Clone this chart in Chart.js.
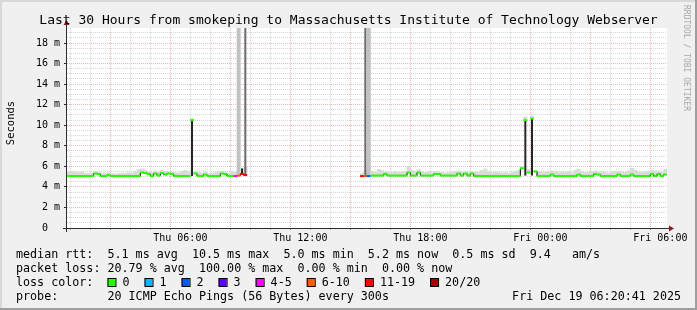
<!DOCTYPE html>
<html><head><meta charset="utf-8">
<script src="https://cdn.jsdelivr.net/npm/chart.js@4/dist/chart.umd.min.js"></script>
<style>html,body{margin:0;padding:0;background:#f0f0f0;}canvas{display:block;}</style>
</head><body>
<canvas id="c" width="697" height="310"></canvas>
<script>
// ---- data (10-minute samples starting Thu 00:20, times in minutes) ----
const STEP_MIN = 10;
const median = [
 5.05,5.05,5.05,5.05,5.05,5.05,5.05,5.05,5.3,5.25,
 5.05,5.05,5.15,5.05,5.05,5.05,5.05,5.05,5.05,5.05,
 5.05,5.05,5.4,5.35,5.25,5.05,5.3,5.1,5.35,5.2,
 5.3,5.25,5.05,5.05,5.05,5.05,5.05,10.5,5.3,5.05,
 5.05,5.2,5.05,5.05,5.05,5.05,5.3,5.25,5.05,5.05,
 5.05,5.1,5.25,5.15,null,null,null,null,null,null,
 null,null,null,null,null,null,null,null,null,null,
 null,null,null,null,null,null,null,null,null,null,
 null,null,null,null,null,null,null,null,5.05,5.05,
 5.05,5.1,5.1,5.1,5.1,5.25,5.1,5.1,5.1,5.1,
 5.1,5.1,5.4,5.1,5.1,5.4,5.1,5.1,5.1,5.1,
 5.25,5.25,5.1,5.1,5.1,5.1,5.1,5.3,5.1,5.3,
 5.1,5.3,5.05,5.05,5.05,5.05,5.05,5.05,5.05,5.05,
 5.05,5.05,5.05,5.05,5.05,5.05,5.8,10.5,5.4,10.65,
 5.5,5.05,5.05,5.05,5.05,5.2,5.05,5.05,5.05,5.05,
 5.05,5.05,5.05,5.2,5.05,5.05,5.05,5.05,5.25,5.2,
 5.05,5.05,5.05,5.05,5.05,5.2,5.05,5.05,5.05,5.2,
 5.05,5.05,5.05,5.05,5.05,5.25,5.05,5.25,5.05,5.2
];
const smokeHi = [
 5.45,5.5,5.45,5.4,5.45,5.35,5.3,5.35,5.5,5.45,
 5.3,5.35,5.4,5.3,5.25,5.3,5.35,5.3,5.4,5.35,
 5.5,5.7,5.75,5.6,5.5,5.4,5.55,5.45,5.6,5.5,
 5.5,5.45,5.4,5.35,5.5,5.6,5.5,10.6,5.55,5.4,
 5.35,5.45,5.3,5.35,5.4,5.5,5.5,5.45,5.35,5.5,
 5.45,20,5.8,5.9,null,null,null,null,null,null,
 null,null,null,null,null,null,null,null,null,null,
 null,null,null,null,null,null,null,null,null,null,
 null,null,null,null,null,null,null,null,5.3,5.6,
 20,5.5,5.4,5.7,5.6,5.5,5.45,5.4,5.5,5.4,
 5.45,5.5,6.0,5.6,5.5,5.7,5.45,5.4,5.5,5.45,
 5.5,5.45,5.4,5.35,5.4,5.45,5.5,5.55,5.45,5.5,
 5.4,5.5,5.45,5.4,5.6,5.75,5.5,5.4,5.45,5.4,
 5.35,5.4,5.35,5.45,5.5,5.6,6.0,10.8,5.7,10.9,
 5.6,5.5,5.4,5.45,5.5,5.55,5.5,5.4,5.45,5.4,
 5.5,5.35,5.6,5.7,5.45,5.4,5.45,5.5,5.55,5.5,
 5.45,5.4,5.35,5.45,5.5,5.5,5.45,5.4,5.55,5.8,
 5.6,5.45,5.4,5.45,5.5,5.6,5.5,5.55,5.45,5.7
];
const lossIdx = [50,51,52,53,88,89,90];
const lossVal = [4,8,15,15,15,8,2];
const darkIdx = [37,52,53,89,137,139];
const darkLo  = [5.05,5.25,5.15,5.05,5.1,5.1];
const darkHi  = [10.5,5.8,20,20,10.5,10.65];

const yLabelValues = [0,2,4,6,8,10,12,14,16,18];
const yLabelTexts  = ['0  ','2 m','4 m','6 m','8 m','10 m','12 m','14 m','16 m','18 m'];
const xLabelMinutes = [340,700,1060,1420,1780];
const xLabelTexts   = ['Thu 06:00','Thu 12:00','Thu 18:00','Fri 00:00','Fri 06:00'];

const lossBucketNames = ['0','1','2','3','4-5','6-10','11-19','20/20'];
const lossBucketColors = ['#26ff00','#00b8ff','#0059ff','#5e00ff','#ff00ff','#ff5e00','#ff0000','#a10000'];

const titleText = 'Last 30 Hours from smokeping to Massachusetts Institute of Technology Webserver';
const statLines = [
 'median rtt:  5.1 ms avg  10.5 ms max  5.0 ms min  5.2 ms now  0.5 ms sd  9.4   am/s',
 'packet loss: 20.79 % avg  100.00 % max  0.00 % min  0.00 % now'
];
const lossLabel = 'loss color:';
const probeLabel = 'probe:';
const probeText = '20 ICMP Echo Pings (56 Bytes) every 300s';
const dateText = 'Fri Dec 19 06:20:41 2025';
const watermark = 'RRDTOOL / TOBI OETIKER';

// ---- styling ----
const MONO = "'DejaVu Sans Mono', monospace";
const BACK = '#f0f0f0', CANVAS_BG = '#ffffff';
const SHADEA = '#d8d8d8', SHADEB = '#9e9e9e';
const GRID = 'rgba(140,140,140,0.35)', MGRID = 'rgba(200,40,40,0.33)';
const AXIS = '#2c2c2c', ARROW = '#7f1f1f';

const tMid = i => (i + 0.5) * STEP_MIN;
const lossOf = i => { const k = lossIdx.indexOf(i); return k < 0 ? 0 : lossVal[k]; };
const bucketOf = l => l <= 3 ? l : l <= 5 ? 4 : l <= 10 ? 5 : l <= 19 ? 6 : 7;

const medianPts = median.map((v, i) => ({x: tMid(i), y: v}));
const smokePts = [];
median.forEach((v, i) => { if (v !== null && smokeHi[i] !== null) smokePts.push({x: tMid(i), y: [v, smokeHi[i]]}); });
const darkPts = darkIdx.map((idx, k) => ({x: tMid(idx), y: [darkLo[k], darkHi[k]]}));
const markColors = median.map((v, i) => lossBucketColors[bucketOf(lossOf(i))]);

const yGrid = []; for (let v = 0; v <= 19; v += 0.5) yGrid.push(v);
const xGrid = []; for (let m = 40; m < 1800; m += 60) xGrid.push(m);
const isMajorX = m => (((20 + m) / 60) % 3) === 0;

const decor = {
  id: 'decor',
  beforeDraw(chart) {
    const {ctx, chartArea: a, width: W, height: H} = chart;
    ctx.save();
    ctx.fillStyle = BACK; ctx.fillRect(0, 0, W, H);
    ctx.fillStyle = SHADEA; ctx.fillRect(0, 0, W, 2); ctx.fillRect(0, 0, 2, H);
    ctx.fillStyle = SHADEB; ctx.fillRect(0, H - 2, W, 2); ctx.fillRect(W - 2, 0, 2, H);
    ctx.fillStyle = CANVAS_BG; ctx.fillRect(a.left, a.top, a.right - a.left, a.bottom - a.top);
    ctx.restore();
  },
  afterDraw(chart) {
    const {ctx, chartArea: a, width: W} = chart;
    ctx.save();
    // axes
    ctx.strokeStyle = AXIS; ctx.lineWidth = 1;
    ctx.beginPath();
    ctx.moveTo(a.left - 4, a.bottom + 0.5); ctx.lineTo(a.right + 3, a.bottom + 0.5);
    ctx.moveTo(a.left - 0.5, a.bottom + 4); ctx.lineTo(a.left - 0.5, a.top - 4);
    ctx.stroke();
    ctx.fillStyle = ARROW;
    ctx.beginPath();
    ctx.moveTo(a.right + 2, a.bottom + 0.5 - 3); ctx.lineTo(a.right + 7, a.bottom + 0.5); ctx.lineTo(a.right + 2, a.bottom + 0.5 + 3);
    ctx.closePath(); ctx.fill();
    ctx.beginPath();
    ctx.moveTo(a.left - 0.5 - 3, a.top - 3); ctx.lineTo(a.left - 0.5, a.top - 8); ctx.lineTo(a.left - 0.5 + 3, a.top - 3);
    ctx.closePath(); ctx.fill();

    // title
    ctx.fillStyle = '#000';
    ctx.font = '13px ' + MONO; ctx.textAlign = 'center'; ctx.textBaseline = 'alphabetic';
    ctx.fillText(titleText, W / 2, 23.5);

    // y axis title
    ctx.save();
    ctx.translate(11, 123); ctx.rotate(-Math.PI / 2);
    ctx.font = '10.5px ' + MONO; ctx.textAlign = 'center'; ctx.textBaseline = 'middle';
    ctx.fillText('Seconds', 0, 0);
    ctx.restore();

    // watermark
    ctx.save();
    ctx.translate(686.5, 5); ctx.rotate(Math.PI / 2);
    ctx.font = '8px ' + MONO; ctx.fillStyle = '#a8a8a8'; ctx.textAlign = 'left'; ctx.textBaseline = 'middle';
    ctx.fillText(watermark, 0, 0);
    ctx.restore();

    // legend / stats
    const LX = 16, LF = '11.7px ' + MONO;
    ctx.font = LF; ctx.textAlign = 'left'; ctx.textBaseline = 'alphabetic'; ctx.fillStyle = '#000';
    const cw = ctx.measureText('0').width;
    ctx.fillText(statLines[0], LX, 258);
    ctx.fillText(statLines[1], LX, 272);
    ctx.fillText(lossLabel, LX, 286);
    let cx = LX + 13 * cw;
    lossBucketNames.forEach((name, k) => {
      ctx.fillStyle = lossBucketColors[k];
      ctx.fillRect(cx, 278, 8, 8);
      ctx.strokeStyle = '#000'; ctx.lineWidth = 1;
      ctx.strokeRect(cx + 0.5, 278.5, 8, 8);
      ctx.fillStyle = '#000';
      const lx = cx + 15;
      ctx.fillText(name, lx, 286);
      cx = lx + ctx.measureText(name).width + 15;
    });
    ctx.fillText(probeLabel, LX, 300);
    ctx.fillText(probeText, LX + 13 * cw, 300);
    ctx.textAlign = 'right';
    ctx.fillText(dateText, 681, 300);
    ctx.restore();
  }
};

new Chart(document.getElementById('c'), {
  type: 'line',
  data: {
    datasets: [
      { type: 'bar', label: 'smoke', data: smokePts, borderWidth: 0,
        backgroundColor: ctx => (ctx.raw && ctx.raw.y[1] > 15) ? '#c2c2c2' : '#dadada',
        grouped: false, barPercentage: 1, categoryPercentage: 1, order: 5 },
      { type: 'bar', label: 'smoke dark', data: darkPts, borderWidth: 0,
        backgroundColor: ctx => (ctx.raw && ctx.raw.y[1] > 15) ? '#6a6a6a' : '#262626',
        grouped: false, barPercentage: 0.6, categoryPercentage: 1, order: 4 },
      { type: 'line', label: 'median', data: medianPts, stepped: 'middle', borderColor: '#000',
        segment: { borderColor: s => Math.abs(s.p1.parsed.y - s.p0.parsed.y) > 2 ? 'rgba(0,0,0,0)' : '#000' },
        borderWidth: 1, pointRadius: 0, spanGaps: false, order: 2 },
      { type: 'line', label: 'median loss', data: medianPts, showLine: false, pointStyle: 'line',
        pointRadius: 1.9, pointBorderWidth: 2, pointBorderColor: markColors, pointBackgroundColor: markColors,
        order: 1 }
    ]
  },
  options: {
    responsive: false, animation: false, devicePixelRatio: 1, events: [],
    layout: { padding: { left: 0, right: 30, top: 28, bottom: 62 } },
    plugins: { legend: { display: false }, tooltip: { enabled: false }, title: { display: false } },
    scales: {
      x: {
        type: 'linear', min: 0, max: 1800, offset: false,
        afterBuildTicks: s => { s.ticks = xGrid.map(v => ({value: v})); },
        afterFit: s => { s.height = 20; s.paddingLeft = 0; s.paddingRight = 0; },
        ticks: {
          autoSkip: false, maxRotation: 0, minRotation: 0, padding: 2, color: '#000',
          font: { family: MONO, size: 10 },
          callback: v => { const k = xLabelMinutes.indexOf(v); return k < 0 ? '' : xLabelTexts[k]; }
        },
        grid: {
          color: c => (c.tick && isMajorX(c.tick.value)) ? MGRID : GRID,
          tickColor: c => (c.tick && isMajorX(c.tick.value)) ? 'rgba(200,40,40,0.7)' : 'rgba(120,120,120,0.6)',
          tickLength: 2, lineWidth: 1, drawTicks: true
        },
        border: { display: false, dash: [1, 1] }
      },
      y: {
        type: 'linear', min: 0, max: 19.46,
        afterBuildTicks: s => { s.ticks = yGrid.map(v => ({value: v})); },
        afterFit: s => { s.width = 67; s.paddingTop = 0; s.paddingBottom = 0; },
        ticks: {
          autoSkip: false, padding: 4, color: '#000', font: { family: MONO, size: 10 },
          callback: v => { const k = yLabelValues.indexOf(v); return k < 0 ? '' : yLabelTexts[k]; }
        },
        grid: {
          color: c => (c.tick && c.tick.value % 2 === 0) ? MGRID : GRID,
          tickColor: c => (c.tick && c.tick.value % 2 === 0) ? AXIS : 'rgba(0,0,0,0)',
          tickLength: 3, lineWidth: 1, drawTicks: true
        },
        border: { display: false, dash: [1, 1] }
      }
    }
  },
  plugins: [decor]
});
</script>
</body></html>
